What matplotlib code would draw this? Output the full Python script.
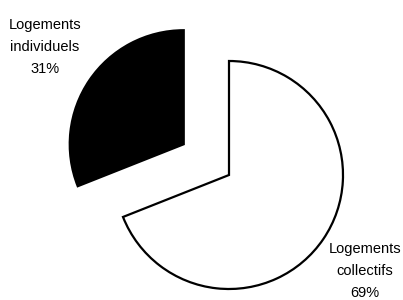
import matplotlib.pyplot as plt

plt.rcParams['font.family'] = ['Liberation Sans', 'DejaVu Sans']

# data
categories = ["Logements collectifs", "Logements individuels"]
shares = [69, 31]
colors = ["white", "black"]
explode = [0, 0.48]

fig = plt.figure(figsize=(4.03, 3.00), dpi=100)
ax = fig.add_axes([0, 0, 1, 1])

ax.pie(shares, colors=colors, explode=explode, startangle=90,
       counterclock=False, radius=1,
       wedgeprops=dict(edgecolor="black", linewidth=1.6))

# pixel layout: white slice centre at (229, 175), radius 114 px
ax.set_xlim(-229 / 114, (403 - 229) / 114)
ax.set_ylim(-125 / 114, 175 / 114)
ax.set_aspect("equal")
ax.axis("off")

labels = [c.replace(" ", "\n") + "\n" + str(v) + "%" for c, v in zip(categories, shares)]
# label positions in pixels (x, y from top)
pos = [(365, 271), (45, 47)]
for lab, (px, py) in zip(labels, pos):
    fig.text(px / 403, 1 - py / 300, lab, ha="center", va="center",
             fontsize=10.5, linespacing=1.75)

fig.savefig("out.png", dpi=100)
